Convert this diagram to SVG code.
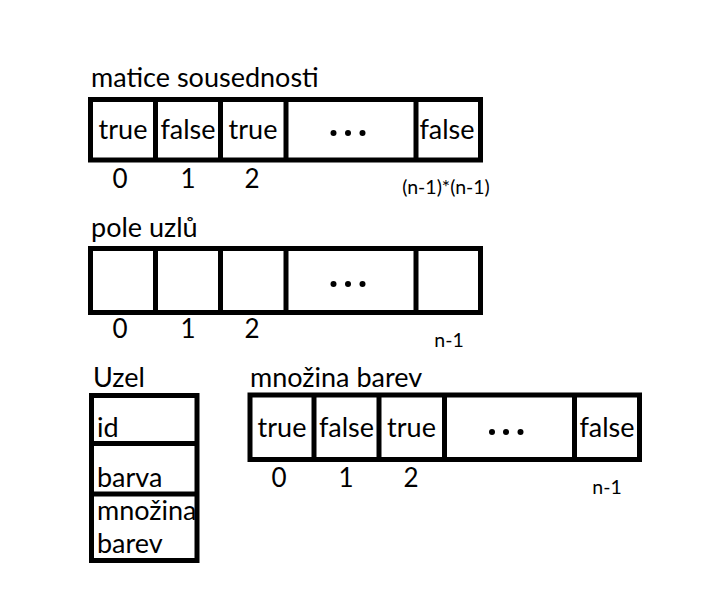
<svg xmlns="http://www.w3.org/2000/svg" width="712" height="603" viewBox="0 0 712 603">
<style>
text{font-family:Lato,"Liberation Sans",sans-serif;fill:#000;}
.t{font-size:27px;}
.c{text-anchor:middle;}
.n{font-size:26px;text-anchor:middle;}
.s{font-size:19.5px;text-anchor:middle;}
.box{fill:#fff;stroke:#000;stroke-width:5;}
.ln{stroke:#000;stroke-width:5;}
.dot{fill:#000;}
</style>
<rect width="712" height="603" fill="#fff"/>
<g id="matice">
<text class="t" x="91" y="87">matice sousednosti</text>
<rect class="box" x="90.5" y="99.5" width="390" height="60.5"/>
<line class="ln" x1="155.5" y1="99.5" x2="155.5" y2="160"/>
<line class="ln" x1="220.5" y1="99.5" x2="220.5" y2="160"/>
<line class="ln" x1="286" y1="99.5" x2="286" y2="160"/>
<line class="ln" x1="416" y1="99.5" x2="416" y2="160"/>
<text class="t c" x="123" y="139">true</text>
<text class="t c" x="188" y="139">false</text>
<text class="t c" x="253" y="139">true</text>
<circle class="dot" cx="333.5" cy="133" r="3"/>
<circle class="dot" cx="348" cy="133" r="3"/>
<circle class="dot" cx="362.5" cy="133" r="3"/>
<text class="t c" x="447" y="139">false</text>
<text class="n" x="120" y="188">0</text>
<text class="n" x="188" y="188">1</text>
<text class="n" x="252" y="188">2</text>
<text class="s" x="446" y="194">(n-1)*(n-1)</text>
</g>
<g id="pole">
<text class="t" x="91" y="237">pole uzlů</text>
<rect class="box" x="90.5" y="248.5" width="390" height="64"/>
<line class="ln" x1="155.5" y1="248.5" x2="155.5" y2="312.5"/>
<line class="ln" x1="220.5" y1="248.5" x2="220.5" y2="312.5"/>
<line class="ln" x1="286" y1="248.5" x2="286" y2="312.5"/>
<line class="ln" x1="416" y1="248.5" x2="416" y2="312.5"/>
<circle class="dot" cx="333.5" cy="284" r="3"/>
<circle class="dot" cx="348" cy="284" r="3"/>
<circle class="dot" cx="362.5" cy="284" r="3"/>
<text class="n" x="120" y="338">0</text>
<text class="n" x="188" y="338">1</text>
<text class="n" x="252" y="338">2</text>
<text class="s" x="449" y="347">n-1</text>
</g>
<g id="uzel">
<text class="t" x="93" y="387">Uzel</text>
<rect class="box" x="91.5" y="395.5" width="105.5" height="165"/>
<line class="ln" x1="91.5" y1="443.5" x2="197" y2="443.5"/>
<line class="ln" x1="91.5" y1="494" x2="197" y2="494"/>
<text class="t" x="97" y="437">id</text>
<text class="t" x="97" y="487">barva</text>
<text class="t" x="97" y="520">množina</text>
<text class="t" x="97" y="553">barev</text>
</g>
<g id="mnozina">
<text class="t" x="250" y="387">množina barev</text>
<rect class="box" x="250" y="395" width="389.5" height="64.5"/>
<line class="ln" x1="314" y1="395" x2="314" y2="459.5"/>
<line class="ln" x1="379" y1="395" x2="379" y2="459.5"/>
<line class="ln" x1="444.5" y1="395" x2="444.5" y2="459.5"/>
<line class="ln" x1="574.5" y1="395" x2="574.5" y2="459.5"/>
<text class="t c" x="282" y="437">true</text>
<text class="t c" x="346.5" y="437">false</text>
<text class="t c" x="411.5" y="437">true</text>
<circle class="dot" cx="492" cy="432" r="3"/>
<circle class="dot" cx="506" cy="432" r="3"/>
<circle class="dot" cx="520.5" cy="432" r="3"/>
<text class="t c" x="607" y="437">false</text>
<text class="n" x="279" y="487">0</text>
<text class="n" x="346" y="487">1</text>
<text class="n" x="411" y="487">2</text>
<text class="s" x="607" y="494">n-1</text>
</g>
<g id="connectors"></g>
</svg>
